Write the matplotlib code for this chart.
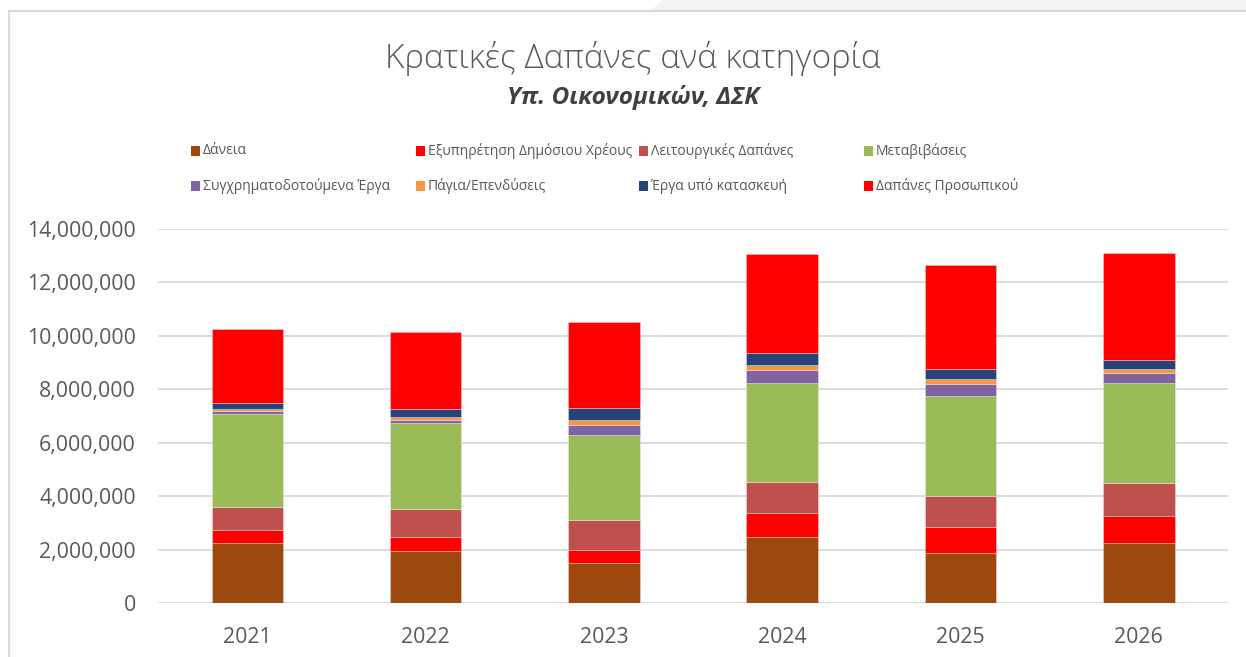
import matplotlib.pyplot as plt
import numpy as np
from matplotlib.patches import Polygon, Rectangle
from matplotlib.lines import Line2D
from matplotlib.ticker import FuncFormatter

plt.rcParams['font.family'] = ['Open Sans', 'DejaVu Sans']

# Δεδομένα (εκτίμηση από την εικόνα)
years = ['2021', '2022', '2023', '2024', '2025', '2026']
categories = ['Δάνεια', 'Εξυπηρέτηση Δημόσιου Χρέους', 'Λειτουργικές Δαπάνες',
              'Μεταβιβάσεις', 'Συγχρηματοδοτούμενα Έργα', 'Πάγια/Επενδύσεις',
              'Έργα υπό κατασκευή', 'Δαπάνες Προσωπικού']
daneia = [2243000, 1956000, 1508000, 2467000, 1869000, 2243000]
xreos = [474000, 511000, 486000, 897000, 972000, 997000]
leitourgikes = [860000, 1034000, 1097000, 1184000, 1171000, 1234000]
metavivaseis = [3514000, 3252000, 3203000, 3701000, 3751000, 3763000]
sygxrim = [87000, 112000, 386000, 474000, 436000, 386000]
pagia = [87000, 112000, 162000, 174000, 174000, 125000]
erga = [210000, 274000, 449000, 449000, 374000, 349000]
prosopiko = [2800000, 2903000, 3227000, 3701000, 3888000, 3988000]

series = [daneia, xreos, leitourgikes, metavivaseis, sygxrim, pagia, erga, prosopiko]
colors = ['#9C480E', '#FF0000', '#C0504D', '#9BBB59', '#8064A2', '#F79646',
          '#264478', '#FF0000']

W, H = 1246, 657
fig = plt.figure(figsize=(W / 100, H / 100), dpi=100)

# Πλαίσιο / φόντο πάνω δεξιά
fig.patches.append(Polygon([[663 / W, 1], [650 / W, 1 - 11 / H], [1, 1 - 11 / H], [1, 1]],
                           closed=True, transform=fig.transFigure, facecolor='#f3f3f3',
                           edgecolor='none'))
fig.lines.append(Line2D([9 / W, 1], [1 - 11 / H, 1 - 11 / H], transform=fig.transFigure,
                        color='#d9d9d9', lw=1.5))
fig.lines.append(Line2D([9 / W, 9 / W], [0, 1 - 11 / H], transform=fig.transFigure,
                        color='#d9d9d9', lw=1.5))

ax = fig.add_axes([158 / W, 1 - 603 / H, 1070 / W, 374 / H])
x = np.arange(len(years))
bottom = np.zeros(len(years))
for vals, col, lab in zip(series, colors, categories):
    ax.bar(x, vals, width=0.4, bottom=bottom, color=col, label=lab,
           edgecolor=(1, 1, 1, 0.35), linewidth=0.6, zorder=3)
    bottom += np.array(vals)

ax.set_xlim(-0.5, len(years) - 0.5)
ax.set_ylim(0, 14000000)
ax.set_yticks(np.arange(0, 14000001, 2000000))
ax.yaxis.set_major_formatter(FuncFormatter(lambda v, p: f'{int(v):,}'))
ax.set_xticks(x)
ax.set_xticklabels(years)
ax.grid(axis='y', color='#d9d9d9', lw=1.3, zorder=0)
for s in ax.spines.values():
    s.set_visible(False)
ax.tick_params(axis='both', length=0, labelsize=15.3, labelcolor='#595959')
ax.tick_params(axis='y', pad=16)
ax.tick_params(axis='x', pad=17)

# Τίτλοι
fig.text(633 / W, 1 - 58 / H, 'Κρατικές Δαπάνες ανά κατηγορία', ha='center', va='center',
         fontsize=24, color='#595959', fontweight='light')
fig.text(633 / W, 1 - 97 / H, 'Υπ. Οικονομικών, ΔΣΚ', ha='center', va='center',
         fontsize=17.6, color='#404040', fontweight='bold', fontstyle='italic')

# Υπόμνημα (θέσεις όπως στο Excel)
leg_pos = [(191, 151), (416, 151), (639, 151), (864, 151),
           (191, 186), (416, 186), (639, 186), (864, 186)]
for (px, py), col, lab in zip(leg_pos, colors, categories):
    fig.patches.append(Rectangle((px / W, 1 - (py + 5) / H), 9 / W, 10 / H,
                                 transform=fig.transFigure, facecolor=col, edgecolor='none'))
    fig.text((px + 12) / W, 1 - py / H, lab, ha='left', va='center', fontsize=10,
             color='#595959')

fig.savefig('out.png', dpi=100)
